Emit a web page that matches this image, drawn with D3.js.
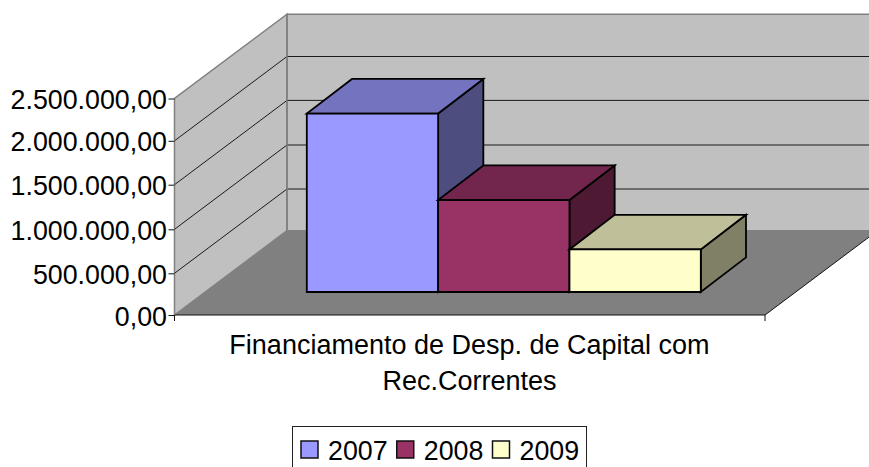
<!DOCTYPE html>
<html><head><meta charset="utf-8">
<script src="https://cdnjs.cloudflare.com/ajax/libs/d3/7.8.5/d3.min.js"></script>
<style>html,body{margin:0;padding:0;background:#fff;overflow:hidden}svg{display:block}text{font-family:"Liberation Sans",Arial,sans-serif;fill:#000}</style>
</head><body><svg id="c" width="869" height="467"></svg>
<script>
const years = ["2007","2008","2009"];
const values = [2050000,1070000,510000];
const tickValues = [0,500000,1000000,1500000,2000000,2500000];
const tickLabels = ["0,00","500.000,00","1.000.000,00","1.500.000,00","2.000.000,00","2.500.000,00"];
const categoryLines = ["Financiamento de Desp. de Capital com","Rec.Correntes"];
const frontColors = ["#9999ff","#993366","#ffffcc"];
const topColors = ["#7373bf","#73264d","#bfbf99"];
const sideColors = ["#4d4d80","#4d1933","#808066"];

const svg = d3.select("#c");
const fontSize = 26.8;
const x0 = 174.5, x1 = 765, yBase = 315, yTop = 98.5;
const depth = {dx:112.5, dy:-84.3};
const y = d3.scaleLinear().domain(tickValues).range([315,273.3,229.3,184.7,140.8,98.5]);
const barDepth = {dx:45.2, dy:-34.6};
const barOrigin = {dy:-23};
const xBand = d3.scaleBand().domain(years).range([306.8,700.8]).padding(0);
const P = pts => pts.map(p=>p.join(",")).join(" ");

// side wall
svg.append("polygon").attr("points",P([[x0,yBase],[x0,yTop],[x0+depth.dx,yTop+depth.dy],[x0+depth.dx,yBase+depth.dy]]))
  .attr("fill","#c0c0c0").attr("stroke","#808080").attr("stroke-width",1.5);
// back wall
svg.append("polygon").attr("points",P([[x0+depth.dx,yBase+depth.dy],[x0+depth.dx,yTop+depth.dy],[x1+depth.dx,yTop+depth.dy],[x1+depth.dx,yBase+depth.dy]]))
  .attr("fill","#c0c0c0").attr("stroke","#808080").attr("stroke-width",1.5);
// floor
svg.append("polygon").attr("points",P([[x0,yBase],[x1,yBase],[x1+depth.dx,yBase+depth.dy],[x0+depth.dx,yBase+depth.dy]]))
  .attr("fill","#808080");
// gridlines
tickValues.slice(1,-1).forEach(v=>{
  svg.append("path").attr("d",d3.line()([[x0,y(v)],[x0+depth.dx,y(v)+depth.dy],[x1+depth.dx,y(v)+depth.dy]]))
   .attr("fill","none").attr("stroke","#1a1a1a").attr("stroke-width",1);
});
// back wall corner over gridlines
svg.append("line").attr("x1",x0+depth.dx).attr("x2",x0+depth.dx).attr("y1",yTop+depth.dy).attr("y2",yBase+depth.dy).attr("stroke","#808080").attr("stroke-width",1.5);
// floor edges and axes
svg.append("path").attr("d",d3.line()([[x0,yBase],[x1,yBase],[x1+depth.dx,yBase+depth.dy]])).attr("fill","none").attr("stroke","#111").attr("stroke-width",1);
svg.append("line").attr("x1",x1).attr("x2",x1).attr("y1",yBase).attr("y2",yBase+6).attr("stroke","#111");
svg.append("line").attr("x1",x0).attr("x2",x0).attr("y1",yBase+6).attr("y2",yBase).attr("stroke","#111");
svg.append("line").attr("x1",x0).attr("x2",x0).attr("y1",yBase).attr("y2",yTop).attr("stroke","#808080").attr("stroke-width",1);

const axis = d3.axisLeft(y).tickValues(tickValues).tickFormat((d,i)=>tickLabels[i]).tickSize(6).tickPadding(1.5);
const gAxis = svg.append("g").attr("transform",`translate(${x0},0)`).call(axis);
gAxis.select(".domain").remove();
gAxis.selectAll("line").attr("stroke","#111");
gAxis.selectAll("text").attr("dy","0.38em").style("font-family",'"Liberation Sans",Arial,sans-serif').style("font-size",fontSize+"px").attr("fill","#000");

// bars
const base = y(0)+barOrigin.dy;
const gBars = svg.selectAll("g.bar").data(years).join("g").attr("class","bar");
gBars.each(function(yr,i){
  const g = d3.select(this), l = xBand(yr), r = l+xBand.bandwidth();
  const t = base-(y(0)-y(values[i]));
  const s = {stroke:"#000","stroke-width":1.8,"stroke-linejoin":"miter"};
  const add = (pts,fill)=>{const e=g.append("polygon").attr("points",P(pts)).attr("fill",fill);Object.entries(s).forEach(([k,v])=>e.attr(k,v));};
  add([[r,base],[r,t],[r+barDepth.dx,t+barDepth.dy],[r+barDepth.dx,base+barDepth.dy]],sideColors[i]);
  add([[l,t],[r,t],[r+barDepth.dx,t+barDepth.dy],[l+barDepth.dx,t+barDepth.dy]],topColors[i]);
  add([[l,base],[r,base],[r,t],[l,t]],frontColors[i]);
});

// category label
svg.selectAll("text.cat").data(categoryLines).join("text").attr("class","cat")
  .attr("x",469.5).attr("y",(d,i)=>354+i*36).attr("text-anchor","middle").style("font-size","27px").text(d=>d);

// legend
svg.append("rect").attr("x",292.5).attr("y",426.5).attr("width",294).attr("height",60).attr("fill","#fff").attr("stroke","#222").attr("stroke-width",1);
const legendX = d3.scalePoint().domain(years).range([301,492.5]);
const gLeg = svg.selectAll("g.leg").data(years).join("g").attr("class","leg").attr("transform",d=>`translate(${legendX(d)},441)`);
gLeg.append("rect").attr("width",17).attr("height",17).attr("fill",(d,i)=>frontColors[i]).attr("stroke","#111").attr("stroke-width",1.5);
gLeg.append("text").attr("x",27).attr("y",18.5).style("font-size",fontSize+"px").text(d=>d);
</script></body></html>
